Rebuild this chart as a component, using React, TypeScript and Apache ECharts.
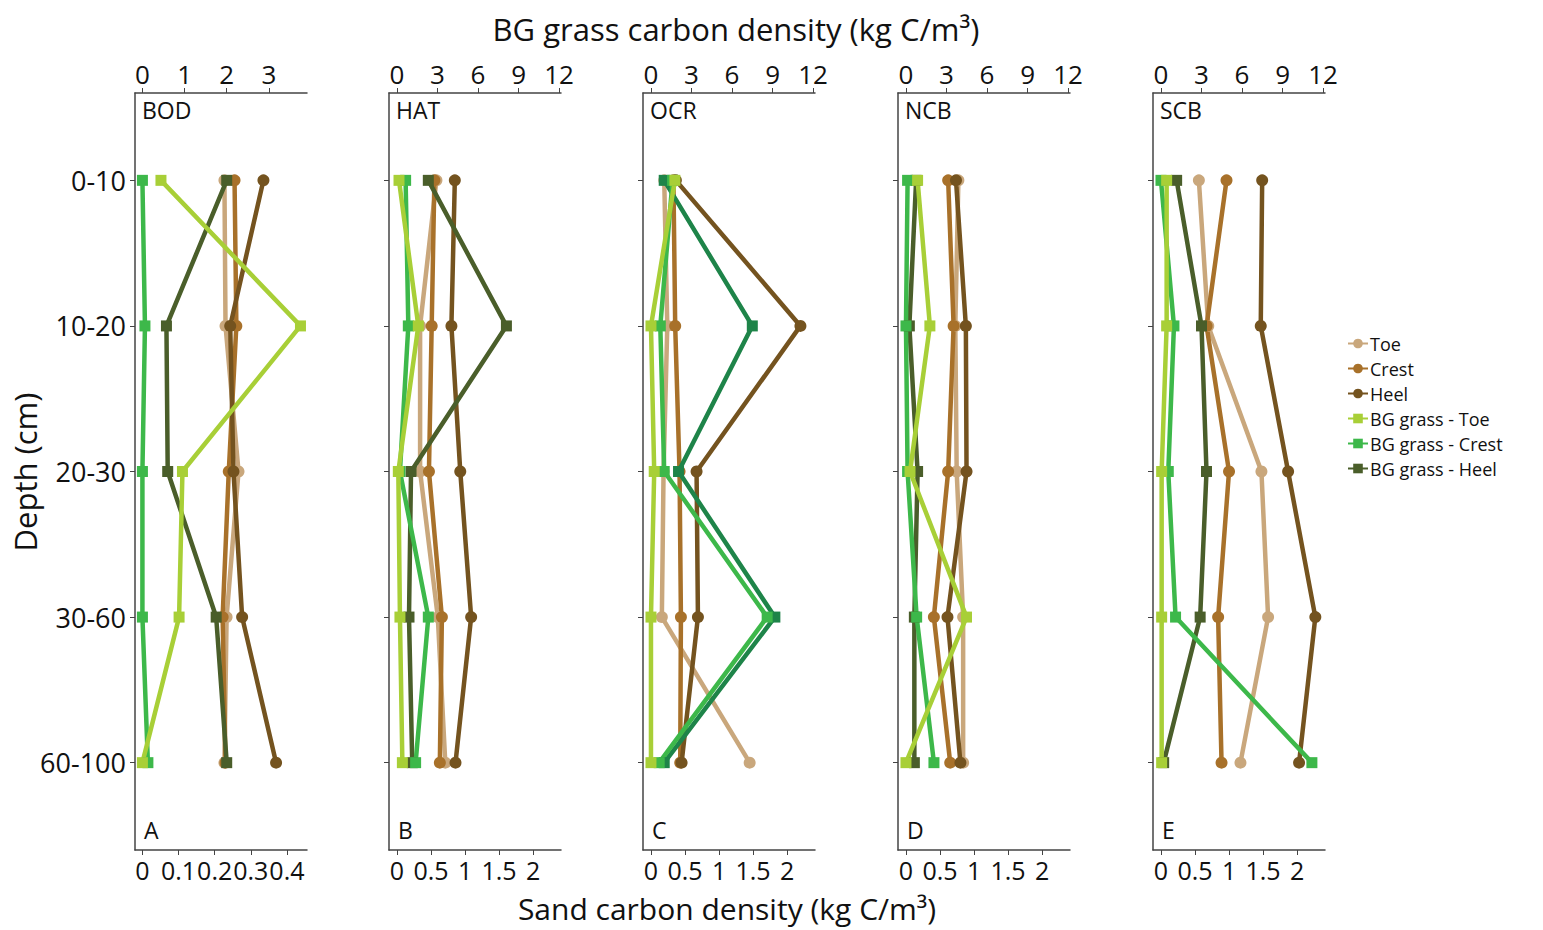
import React, { useEffect, useRef } from "react";
import * as echarts from "echarts";

const DEPTHS = ["0-10", "10-20", "20-30", "30-60", "60-100"];
const SITES = ["BOD", "HAT", "OCR", "NCB", "SCB"];
const LETTERS = ["A", "B", "C", "D", "E"];
const SERIES_NAMES = ["Toe", "Crest", "Heel", "BG grass - Toe", "BG grass - Crest", "BG grass - Heel"];

// Sand carbon density (kg C/m3), bottom axis
const BOD_TOE = [0.227, 0.23, 0.266, 0.233, 0.227];
const BOD_CREST = [0.255, 0.26, 0.239, 0.222, 0.23];
const BOD_HEEL = [0.335, 0.243, 0.252, 0.276, 0.37];
const HAT_TOE = [0.58, 0.34, 0.34, 0.6, 0.71];
const HAT_CREST = [0.55, 0.51, 0.47, 0.66, 0.63];
const HAT_HEEL = [0.85, 0.8, 0.93, 1.09, 0.86];
const OCR_TOE = [0.195, 0.24, 0.185, 0.16, 1.45];
const OCR_CREST = [0.33, 0.356, 0.42, 0.44, 0.43];
const OCR_HEEL = [0.366, 2.196, 0.67, 0.69, 0.45];
const NCB_TOE = [0.77, 0.725, 0.745, 0.84, 0.84];
const NCB_CREST = [0.62, 0.7, 0.62, 0.41, 0.65];
const NCB_HEEL = [0.735, 0.88, 0.89, 0.61, 0.8];
const SCB_TOE = [0.557, 0.695, 1.476, 1.574, 1.168];
const SCB_CREST = [0.963, 0.67, 1.0, 0.84, 0.89];
const SCB_HEEL = [1.487, 1.466, 1.868, 2.268, 2.029];

// BG grass carbon density (kg C/m3), top axis
const BOD_BG_TOE = [0.44, 3.75, 0.95, 0.87, 0.0];
const BOD_BG_CREST = [0.0, 0.06, 0.0, 0.0, 0.13];
const BOD_BG_HEEL = [2.0, 0.57, 0.6, 1.75, 2.0];
const HAT_BG_TOE = [0.15, 1.58, 0.1, 0.22, 0.4];
const HAT_BG_CREST = [0.64, 0.84, 0.22, 2.32, 1.38];
const HAT_BG_HEEL = [2.32, 8.1, 1.04, 0.89, 1.13];
const OCR_BG_TOE = [1.77, 0.0, 0.24, 0.0, 0.0];
const OCR_BG_CREST = [1.6, 0.69, 0.98, 8.6, 0.61];
const OCR_BG_HEEL = [0.98, 7.5, 2.04, 9.17, 0.98];
const NCB_BG_TOE = [0.86, 1.77, 0.3, 4.48, 0.0];
const NCB_BG_CREST = [0.12, 0.0, 0.12, 0.79, 2.07];
const NCB_BG_HEEL = [0.75, 0.25, 0.86, 0.62, 0.62];
const SCB_BG_TOE = [0.42, 0.42, 0.05, 0.05, 0.05];
const SCB_BG_CREST = [0.0, 0.96, 0.54, 1.08, 11.17];
const SCB_BG_HEEL = [1.16, 3.0, 3.37, 2.9, 0.2];

const SAND_TICKS_A = [0, 0.1, 0.2, 0.3, 0.4];
const SAND_TICKS = [0, 0.5, 1, 1.5, 2];
const GRASS_TICKS_A = [0, 1, 2, 3];
const GRASS_TICKS = [0, 3, 6, 9, 12];

const SAND = [
  [BOD_TOE, BOD_CREST, BOD_HEEL],
  [HAT_TOE, HAT_CREST, HAT_HEEL],
  [OCR_TOE, OCR_CREST, OCR_HEEL],
  [NCB_TOE, NCB_CREST, NCB_HEEL],
  [SCB_TOE, SCB_CREST, SCB_HEEL],
];
const GRASS = [
  [BOD_BG_TOE, BOD_BG_CREST, BOD_BG_HEEL],
  [HAT_BG_TOE, HAT_BG_CREST, HAT_BG_HEEL],
  [OCR_BG_TOE, OCR_BG_CREST, OCR_BG_HEEL],
  [NCB_BG_TOE, NCB_BG_CREST, NCB_BG_HEEL],
  [SCB_BG_TOE, SCB_BG_CREST, SCB_BG_HEEL],
];

const COLORS = ["#C9A77C", "#A8712A", "#74531F", "#A8CF37", "#3DB84A", "#4A5E2A"];
const OCR_HEEL_COLOR = "#1E8449";

const FONT = "'Open Sans', 'Noto Sans', sans-serif";
const AXIS_COLOR = "#444";

export default function App() {
  const ref = useRef<HTMLDivElement>(null);
  useEffect(() => {
    if (!ref.current) return;
    const chart = echarts.init(ref.current, undefined, { renderer: "svg" });
    const lefts = [135, 389, 643, 898, 1153];
    const width = 172;
    const top = 93;
    const height = 757;

    const grids: any[] = [];
    const xAxes: any[] = [];
    const yAxes: any[] = [];
    const series: any[] = [];
    const graphics: any[] = [];

    for (let p = 0; p < 5; p++) {
      grids.push({ left: lefts[p], top, width, height });
      const isA = p === 0;
      const sandMin = isA ? -0.0206 : -0.117;
      const sandMax = isA ? 0.4556 : 2.41;
      const grassMin = isA ? -0.176 : -0.59;
      const grassMax = isA ? 3.905 : 12.14;
      const sandTicks = isA ? SAND_TICKS_A : SAND_TICKS;
      const grassTicks = isA ? GRASS_TICKS_A : GRASS_TICKS;
      const common = {
        type: "value",
        gridIndex: p,
        splitLine: { show: false },
        axisLine: { show: true, onZero: false, lineStyle: { color: AXIS_COLOR, width: 1.5 } },
      };
      xAxes.push({
        ...common,
        position: "bottom",
        min: sandMin,
        max: sandMax,
        axisTick: { show: true, customValues: sandTicks, length: 5, lineStyle: { color: AXIS_COLOR } },
        axisLabel: {
          customValues: sandTicks,
          formatter: (v: number) => String(v),
          fontSize: 25,
          color: "#111",
          fontFamily: FONT,
          margin: 7,
        },
      });
      xAxes.push({
        ...common,
        position: "top",
        min: grassMin,
        max: grassMax,
        axisTick: { show: true, customValues: grassTicks, length: 5, lineStyle: { color: AXIS_COLOR } },
        axisLabel: {
          customValues: grassTicks,
          formatter: (v: number) => String(v),
          fontSize: 26,
          color: "#111",
          fontFamily: FONT,
          margin: 6,
        },
      });
      yAxes.push({
        type: "value",
        gridIndex: p,
        inverse: true,
        min: -0.6,
        max: 4.6,
        splitLine: { show: false },
        axisLine: { show: true, onZero: false, lineStyle: { color: AXIS_COLOR, width: 1.5 } },
        axisTick: { show: true, customValues: [0, 1, 2, 3, 4], length: 5, lineStyle: { color: AXIS_COLOR } },
        axisLabel: {
          show: isA,
          customValues: [0, 1, 2, 3, 4],
          formatter: (v: number) => DEPTHS[Math.round(v)] ?? "",
          fontSize: 27,
          color: "#111",
          fontFamily: FONT,
          margin: 9,
        },
      });

      // sand series
      for (let s = 0; s < 3; s++) {
        series.push({
          type: "line",
          name: SERIES_NAMES[s],
          xAxisIndex: p * 2,
          yAxisIndex: p,
          data: SAND[p][s].map((v, i) => [v, i]),
          symbol: "circle",
          symbolSize: 12,
          lineStyle: { width: 4.5, color: COLORS[s] },
          itemStyle: { color: COLORS[s] },
          color: COLORS[s],
          z: 2,
        });
      }
      // grass series (Heel, Crest, Toe so that Toe is on top)
      for (const s of [2, 1, 0]) {
        const c = p === 2 && s === 2 ? OCR_HEEL_COLOR : COLORS[3 + s];
        series.push({
          type: "line",
          name: SERIES_NAMES[3 + s],
          xAxisIndex: p * 2 + 1,
          yAxisIndex: p,
          data: GRASS[p][s].map((v, i) => [v, i]),
          symbol: "rect",
          symbolSize: 11,
          lineStyle: { width: 4.5, color: c },
          itemStyle: { color: c },
          color: c,
          z: 3,
        });
      }

      graphics.push({
        type: "text",
        left: lefts[p] + 7,
        top: 98,
        style: { text: SITES[p], font: `23px ${FONT}`, fill: "#111" },
      });
      graphics.push({
        type: "text",
        left: lefts[p] + 9,
        top: 818,
        style: { text: LETTERS[p], font: `23px ${FONT}`, fill: "#111" },
      });
    }

    graphics.push({
      type: "text",
      x: 736,
      y: 29,
      style: {
        text: "BG grass carbon density (kg C/m³)",
        font: `31px ${FONT}`,
        fill: "#111",
        align: "center",
        verticalAlign: "middle",
      },
    });
    graphics.push({
      type: "text",
      x: 727,
      y: 908,
      style: {
        text: "Sand carbon density (kg C/m³)",
        font: `30px ${FONT}`,
        fill: "#111",
        align: "center",
        verticalAlign: "middle",
      },
    });
    graphics.push({
      type: "text",
      x: 25,
      y: 472,
      rotation: Math.PI / 2,
      style: {
        text: "Depth (cm)",
        font: `31px ${FONT}`,
        fill: "#111",
        align: "center",
        verticalAlign: "middle",
      },
    });

    chart.setOption({
      animation: false,
      backgroundColor: "#fff",
      grid: grids,
      xAxis: xAxes,
      yAxis: yAxes,
      series,
      graphic: graphics,
      legend: {
        data: SERIES_NAMES,
        orient: "vertical",
        left: 1342,
        top: 326,
        itemGap: 0,
        itemWidth: 20,
        itemHeight: 12,
        textStyle: { fontSize: 18, lineHeight: 25, color: "#111", fontFamily: FONT, padding: [0, 0, 0, -3] },
      },
    });
    return () => chart.dispose();
  }, []);
  return (
    <div
      ref={ref}
      style={{ position: "absolute", left: 0, top: 0, width: 1543, height: 930 }}
    />
  );
}
